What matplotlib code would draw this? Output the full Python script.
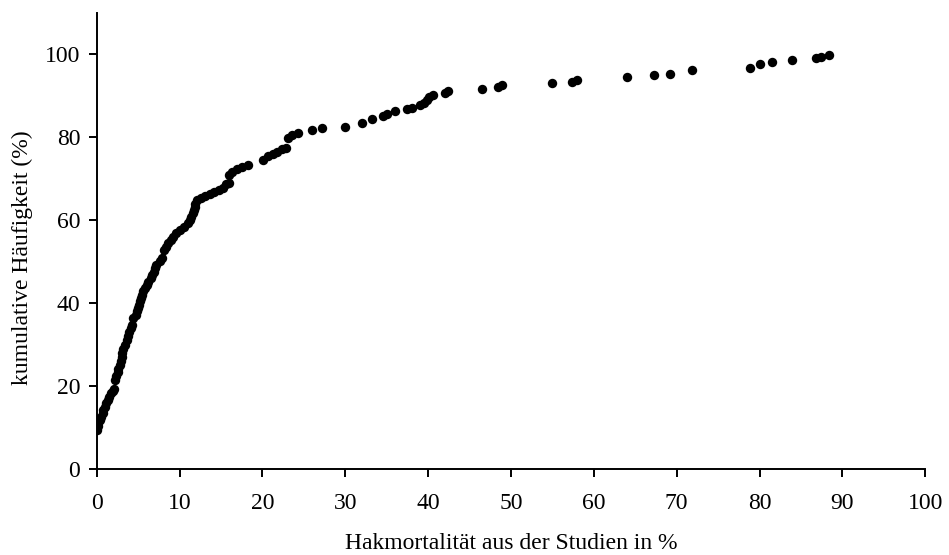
import matplotlib
matplotlib.use("Agg")
import matplotlib.pyplot as plt

# Hakmortalitaet (%) der einzelnen Studien und kumulative Haeufigkeit (%)
mortality = [
    0.0, 0.1, 0.2, 0.4, 0.5, 0.7, 0.8, 1.0, 1.1, 1.3, 1.5, 1.7, 1.9, 2.1,
    2.2, 2.3, 2.5, 2.6, 2.8, 2.9, 3.0, 3.1, 3.2, 3.4, 3.6, 3.8, 3.9, 4.1, 4.2,
    4.4, 4.7, 4.9, 5.0, 5.1, 5.2, 5.3, 5.4, 5.6, 5.8, 6.0, 6.2, 6.5, 6.7, 6.9, 7.0,
    7.2, 7.6, 7.9, 8.1, 8.3, 8.6, 8.9, 9.2, 9.6, 10.0, 10.5, 11.0, 11.3, 11.4,
    11.6, 11.7, 11.8, 11.9, 12.1, 12.6, 13.1, 13.7, 14.2, 14.8, 15.2, 15.6, 15.9,
    16.0, 16.3, 16.9, 17.5, 18.3, 20.1, 20.7, 21.3, 21.8, 22.3, 22.8, 23.1, 23.6,
    24.3, 26.0, 27.2, 30.0, 32.0, 33.2, 34.5, 35.0, 36.0, 37.4, 38.0, 39.0, 39.5,
    39.8, 40.1, 40.6, 42.0, 42.4,
    46.5, 48.4, 48.9, 55.0, 57.3, 58.0, 64.0, 67.2, 69.2, 71.9, 78.9, 80.0, 81.5,
    83.9, 86.8, 87.4, 88.4,
]
cum_freq = [
    9.5, 10.3, 11.0, 11.8, 12.6, 13.4, 14.2, 15.0, 15.8, 16.6, 17.4, 18.2, 18.9, 19.2,
    21.5, 22.4, 23.3, 24.2, 25.1, 26.0, 27.0, 28.0, 29.0, 30.0, 31.0, 32.0, 33.0, 34.0, 34.8,
    36.4, 37.2, 38.0, 38.8, 39.6, 40.4, 41.2, 42.0, 42.8, 43.6, 44.4, 45.2, 46.0, 46.8, 47.6, 48.4,
    49.3, 50.1, 50.8, 52.8, 53.6, 54.4, 55.2, 56.0, 56.8, 57.6, 58.4, 59.2, 60.0, 60.8,
    61.6, 62.4, 63.2, 64.0, 64.8, 65.4, 65.8, 66.2, 66.7, 67.2, 67.8, 68.6, 69.0,
    71.0, 71.6, 72.4, 72.9, 73.4, 74.6, 75.4, 76.0, 76.5, 77.1, 77.5, 79.9, 80.5,
    81.0, 81.7, 82.1, 82.4, 83.3, 84.3, 85.0, 85.5, 86.2, 86.7, 87.1, 87.7, 88.3,
    88.9, 89.6, 90.2, 90.7, 91.1,
    91.7, 92.2, 92.6, 93.1, 93.4, 93.9, 94.4, 94.9, 95.3, 96.2, 96.6, 97.6, 98.1,
    98.5, 99.0, 99.4, 99.9,
]
x_ticks = list(range(0, 101, 10))
y_ticks = list(range(0, 101, 20))

plt.rcParams["font.family"] = ["Liberation Serif", "DejaVu Serif"]
plt.rcParams["font.size"] = 17

fig = plt.figure(figsize=(9.49, 5.55), dpi=100)
ax = fig.add_axes([0.102, 0.155, 0.873, 0.822])

ax.scatter(mortality, cum_freq, s=46, color="black", linewidths=0, zorder=3)

ax.set_xlim(0, 100)
ax.set_ylim(0, 110)
ax.set_xticks(x_ticks)
ax.set_yticks(y_ticks)
ax.spines["top"].set_visible(False)
ax.spines["right"].set_visible(False)
for s in ("left", "bottom"):
    ax.spines[s].set_linewidth(1.4)
ax.tick_params(direction="out", length=6, width=1.4)
ax.tick_params(axis="x", pad=11)
ax.tick_params(axis="y", pad=6)

ax.set_xlabel("Hakmortalität aus der Studien in %", labelpad=14)
ax.set_ylabel("kumulative Häufigkeit (%)")
ax.yaxis.set_label_coords(-0.077, 0.463)

fig.savefig("out.png", dpi=100)
